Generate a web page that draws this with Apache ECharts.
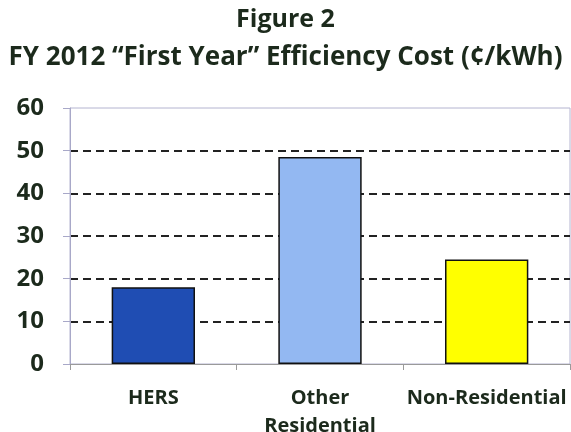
<!DOCTYPE html>
<html>
<head>
<meta charset="utf-8">
<script src="https://cdn.jsdelivr.net/npm/echarts@6/dist/echarts.min.js"></script>
<style>
  html, body { margin: 0; padding: 0; background: #fff; }
  #chart { width: 571px; height: 432px; }
</style>
</head>
<body>
<div id="chart"></div>
<script>
var categories = ["HERS", "Other\nResidential", "Non-Residential"];
var costValues = [18, 48.5, 24.5];
var barColors = ["#1f4db3", "#93b8f2", "#ffff00"];
var yTicks = { min: 0, max: 60, interval: 10 };

var textColor = "#1c2a1c";
var font = "'Open Sans', 'Noto Sans', sans-serif";

var chart = echarts.init(document.getElementById("chart"));

var option = {
  backgroundColor: "#fff",
  animation: false,
  title: [
    {
      text: "Figure 2",
      left: "center",
      top: 2,
      textStyle: { fontFamily: font, fontWeight: "bold", fontSize: 25, color: textColor }
    },
    {
      text: "FY 2012 \u201cFirst Year\u201d Efficiency Cost (\u00a2/kWh)",
      left: "center",
      top: 40,
      textStyle: { fontFamily: font, fontWeight: "bold", fontSize: 26, color: textColor }
    }
  ],
  grid: {
    left: 70,
    right: 1,
    top: 108,
    bottom: 68,
    outerBoundsMode: "none",
    containLabel: false,
    show: true,
    borderColor: "#b4b4d0",
    borderWidth: 1
  },
  xAxis: {
    type: "category",
    data: categories,
    axisLine: { lineStyle: { color: "#9a9a9a", width: 1 } },
    axisTick: { show: true, length: 6, lineStyle: { color: "#9a9a9a" } },
    axisLabel: {
      interval: 0,
      margin: 20,
      fontFamily: font,
      fontWeight: "bold",
      fontSize: 20,
      lineHeight: 28,
      color: textColor
    }
  },
  yAxis: {
    type: "value",
    min: yTicks.min,
    max: yTicks.max,
    interval: yTicks.interval,
    axisLine: { show: true, lineStyle: { color: "#a8a8c8", width: 1 } },
    axisTick: { show: true, length: 7, lineStyle: { color: "#a8a8c8" } },
    axisLabel: {
      margin: 26,
      fontFamily: font,
      fontWeight: "bold",
      fontSize: 24,
      color: textColor
    },
    splitLine: {
      show: true,
      lineStyle: {
        // no dashed line at 0 and 60
        color: ["rgba(0,0,0,0)", "#222", "#222", "#222", "#222", "#222", "rgba(0,0,0,0)"],
        type: [8, 5],
        width: 2
      }
    }
  },
  series: [
    {
      type: "bar",
      barWidth: "50%",
      data: costValues.map(function (v, i) {
        return { value: v, itemStyle: { color: barColors[i] } };
      }),
      itemStyle: { borderColor: "#111", borderWidth: 1.5 }
    }
  ]
};

chart.setOption(option);
</script>
</body>
</html>
